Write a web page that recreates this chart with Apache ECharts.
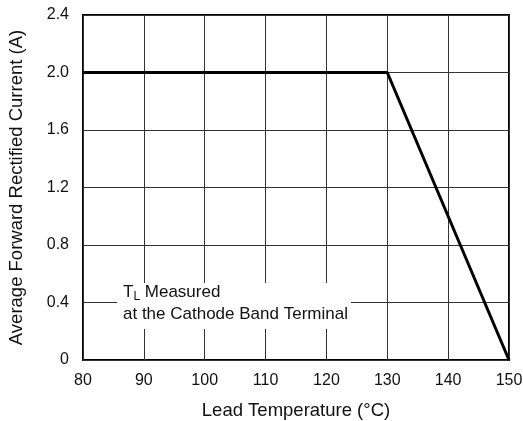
<!DOCTYPE html>
<html><head><meta charset="utf-8">
<script src="https://cdn.jsdelivr.net/npm/echarts@6/dist/echarts.min.js"></script>
<style>html,body{margin:0;padding:0;background:#fff}#c{width:523px;height:421px}</style>
</head><body><div id="c"></div>
<script>
const temps = [80, 130, 150];
const currents = [2.0, 2.0, 0];
const xTicks = [80, 90, 100, 110, 120, 130, 140, 150];
const yTicks = [0, 0.4, 0.8, 1.2, 1.6, 2.0, 2.4];
const xName = 'Lead Temperature (°C)';
const yName = 'Average Forward Rectified Current (A)';
const noteLine1 = 'Measured';
const noteLine2 = 'at the Cathode Band Terminal';

const chart = echarts.init(document.getElementById('c'), null, {renderer: 'canvas'});
const font = 'Liberation Sans, Arial, Helvetica, sans-serif';
const txt = '#111';
chart.setOption({
  animation: false,
  backgroundColor: '#fff',
  grid: {left: 83, right: 14, top: 15, bottom: 61, containLabel: false, outerBoundsMode: 'none',
    show: true, borderColor: '#000', borderWidth: 2},
  xAxis: {
    type: 'value', min: 80, max: 150, interval: 10,
    name: xName, nameLocation: 'middle', nameGap: 41,
    nameTextStyle: {fontFamily: font, fontSize: 18.5, color: txt},
    axisLine: {show: false}, axisTick: {show: false},
    axisLabel: {fontFamily: font, fontSize: 16, color: txt, margin: 13,
      formatter: v => xTicks.includes(v) ? String(v) : ''},
    splitLine: {show: true, lineStyle: {color: '#333', width: 1}}
  },
  yAxis: {
    type: 'value', min: 0, max: 2.4, interval: 0.4,
    name: yName, nameLocation: 'middle', nameGap: 57,
    nameTextStyle: {fontFamily: font, fontSize: 18.5, color: txt},
    axisLine: {show: false}, axisTick: {show: false},
    axisLabel: {fontFamily: font, fontSize: 16, color: txt, margin: 14,
      formatter: v => {
        const t = yTicks.find(y => Math.abs(y - v) < 1e-6);
        if (t === undefined) return '';
        return t === 0 ? '0' : t.toFixed(1);
      }},
    splitLine: {show: true, lineStyle: {color: '#333', width: 1}}
  },
  series: [{
    type: 'line', data: temps.map((t, i) => [t, currents[i]]),
    symbol: 'none', lineStyle: {color: '#000', width: 3}, z: 5
  }],
  graphic: [
    {type: 'rect', left: 117, top: 283, z: 10,
      shape: {width: 234, height: 46}, style: {fill: '#fff'}},
    {type: 'text', left: 123, top: 282, z: 11,
      style: {
        text: '{t|T}{s|L}{t| ' + noteLine1 + '}\n{t|' + noteLine2 + '}',
        rich: {
          t: {fontFamily: font, fontSize: 17, fill: txt, lineHeight: 22},
          s: {fontFamily: font, fontSize: 12, fill: txt, padding: [9, 0, 0, 0], lineHeight: 22}
        }
      }}
  ]
});
</script></body></html>
